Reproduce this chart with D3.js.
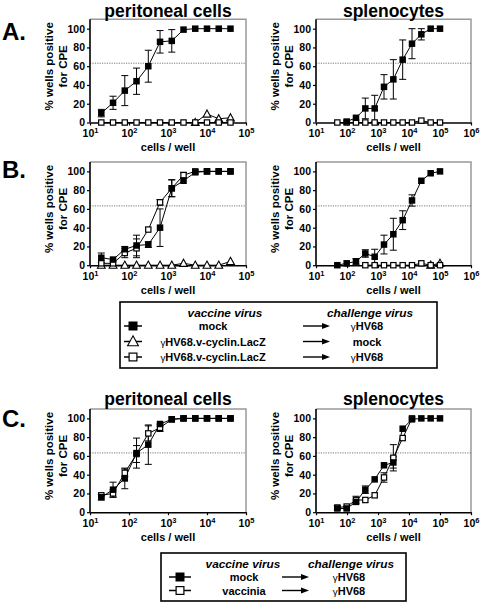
<!DOCTYPE html>
<html><head><meta charset="utf-8">
<script src="https://cdn.jsdelivr.net/npm/d3@7/dist/d3.min.js"></script>
<style>
body{margin:0;background:#fff}
svg{display:block}
text{font-family:"Liberation Sans",Arial,Helvetica,sans-serif;font-weight:bold;fill:#000}
</style>
</head><body>
<svg id="chart" width="480" height="604"></svg>
<script>
// ---------- data ----------
const peritonealX = [19.5, 39, 78, 156, 312.5, 625, 1250, 2500, 5000, 10000, 20000, 40000];
const splenocyteX = [48.8, 97.7, 195, 390, 781, 1562, 3125, 6250, 12500, 25000, 50000, 100000];
const yTickValues = [0, 20, 40, 60, 80, 100];
const peritonealDecades = [1, 2, 3, 4, 5];
const splenocyteDecades = [1, 2, 3, 4, 5, 6];
const cpeThreshold = 63.2;
const panelTitles = ["peritoneal cells", "splenocytes"];
const panelLetters = ["A.", "B.", "C."];
const yAxisTitle = ["% wells positive", "for CPE"];
const xAxisTitle = "cells / well";

// Panel A
const aPeritMock      = [10, 21, 34, 44, 60, 86, 87, 99, 100, 100, 100, 100];
const aPeritMockErr   = [4, 7, 16, 14, 17, 12, 12, 0, 0, 0, 0, 0];
const aPeritCyclinMock= [null, null, null, null, null, null, null, null, 0, 9, 4, 5];
const aPeritCyclinHV  = [0, 0, 0, 0, 0, 0, 0, 0, 0, 0, 0, 0];
const aSplenMock      = [null, 1, 5, 15, 15, 38, 46, 67, 84, 94, 100, 100];
const aSplenMockErr   = [0, 0, 0, 11, 14, 13, 21, 21, 16, 6, 0, 0];
const aSplenCyclinHV  = [0, 0, 0, 0, 0, 0, 0, 0, 0, 2, 0, 0];

// Panel B
const bPeritMock      = [8, 6, 17, 21, 22, 40, 82, 90, 99, 100, 100, 100];
const bPeritMockErr   = [5, 0, 3, 11, 3, 20, 9, 0, 0, 0, 0, 0];
const bPeritCyclinMock= [0, 0, 0, 0, 0, 0, 0, 2, 0, 0, 0, 4];
const bPeritCyclinHV  = [2, 2, 13, 18, 38, 67, 82, 96, 100, 100, 100, 100];
const bPeritCyclinHVErr=[0, 0, 5, 10, 0, 3, 9, 3, 0, 0, 0, 0];
const bSplenMock      = [0, 2, 4, 12.5, 9, 22, 33, 48, 69, 90, 98, 100];
const bSplenMockErr   = [0, 0, 3, 4, 8, 10, 17, 10, 6, 0, 0, 0];
const bSplenCyclinMock= [null, null, null, null, null, null, null, null, null, null, 0, 2];
const bSplenCyclinHV  = [null, null, null, 0, 0, 0, 0, 0, 0, 2, 0, 0];

// Panel C
const cPeritMock      = [16, 24, 36, 63, 72, 94, 99, 100, 100, 100, 100, 100];
const cPeritMockErr   = [3, 8, 11, 16, 21, 0, 0, 0, 0, 0, 0, 0];
const cPeritVaccinia  = [18, 20, 42, 62, 84, 90, 99, 100, 100, 100, 100, 100];
const cPeritVacciniaErr=[0, 4, 4, 9, 8, 4, 0, 0, 0, 0, 0, 0];
const cSplenMock      = [4, 4, 11, 24, 35, 50, 53, 89, 99, 100, 100, 100];
const cSplenMockErr   = [0, 0, 0, 4, 0, 0, 6, 0, 0, 0, 0, 0];
const cSplenVaccinia  = [5, 6, 13, 13, 18, 37, 58, 79, 100, null, null, null];
const cSplenVacciniaErr=[2, 0, 4, 0, 0, 5, 14, 0, 0, 0, 0, 0];

// Legends
const legend1Rows = [
  {sym: "filled", vaccine: "mock", challenge: "γHV68"},
  {sym: "triangle", vaccine: "γHV68.v-cyclin.LacZ", challenge: "mock"},
  {sym: "open", vaccine: "γHV68.v-cyclin.LacZ", challenge: "γHV68"}
];
const legend2Rows = [
  {sym: "filled", vaccine: "mock", challenge: "γHV68"},
  {sym: "open", vaccine: "vaccinia", challenge: "γHV68"}
];
const legendHeaders = ["vaccine virus", "challenge virus"];

// ---------- layout ----------
const svg = d3.select("#chart");
const plotH = 103.2;
const colLayout = [
  {x0: 90, x1: 246, domain: [10, 1e5], decades: peritonealDecades, xs: peritonealX},
  {x0: 316, x1: 471, domain: [10, 1e6], decades: splenocyteDecades, xs: splenocyteX}
];
const rowTops = [19.3, 162, 409];
const titleBaselines = [16.5, null, 404.5];

function seriesOf(vals, xs, errs) {
  return vals.map((v, i) => ({x: xs[i], v: v, e: errs ? errs[i] : 0})).filter(d => d.v !== null);
}

function drawMarker(g, type, cx, cy, s) {
  if (type === "filled") {
    g.append("rect").attr("x", cx - s/2).attr("y", cy - s/2).attr("width", s).attr("height", s)
      .attr("fill", "#000");
  } else if (type === "open") {
    g.append("rect").attr("x", cx - s/2 + 0.6).attr("y", cy - s/2 + 0.6).attr("width", s - 1.2).attr("height", s - 1.2)
      .attr("fill", "#fff").attr("stroke", "#000").attr("stroke-width", 1.2);
  } else {
    const h = s * 1.05;
    g.append("path").attr("d", `M${cx},${cy - h*0.6}L${cx + s*0.6},${cy + h*0.45}L${cx - s*0.6},${cy + h*0.45}Z`)
      .attr("fill", "#fff").attr("stroke", "#000").attr("stroke-width", 1.1);
  }
}

function drawPanel(rowIdx, colIdx, seriesList) {
  const L = colLayout[colIdx];
  const top = rowTops[rowIdx];
  const bottom = top + plotH;
  const x = d3.scaleLog().domain(L.domain).range([L.x0, L.x1]);
  const y = d3.scaleLinear().domain([0, 110]).range([bottom, top]);
  const g = svg.append("g");

  // frame (gray top/right)
  g.append("path").attr("d", `M${L.x0},${top}H${L.x1}V${bottom}`)
    .attr("fill", "none").attr("stroke", "#999").attr("stroke-width", 1.5);

  // threshold line
  g.append("line").attr("x1", L.x0).attr("x2", L.x1).attr("y1", y(cpeThreshold)).attr("y2", y(cpeThreshold))
    .attr("stroke", "#555").attr("stroke-width", 0.8).attr("stroke-dasharray", "1.2,1.2");

  // y axis
  const ya = g.append("g").attr("transform", `translate(${L.x0},0)`)
    .call(d3.axisLeft(y).tickValues(yTickValues).tickSize(3).tickSizeOuter(0).tickPadding(2));
  ya.select(".domain").attr("stroke", "#000").attr("stroke-width", 1.6)
    .attr("d", `M0,${top}V${bottom}`);
  ya.selectAll(".tick line").attr("stroke", "#000").attr("stroke-width", 1.2);
  ya.selectAll(".tick text").attr("font-size", 10.5).attr("font-family", null).attr("font-weight", "bold");

  // x axis
  const xa = g.append("g").attr("transform", `translate(0,${bottom})`)
    .call(d3.axisBottom(x).tickValues(L.decades.map(e => Math.pow(10, e))).tickSize(3).tickSizeOuter(0).tickPadding(2));
  xa.select(".domain").attr("stroke", "#000").attr("stroke-width", 1.6);
  xa.selectAll(".tick line").attr("stroke", "#000").attr("stroke-width", 1.2);
  xa.selectAll(".tick text").attr("font-size", 10.5).attr("font-family", null).attr("font-weight", "bold")
    .attr("dy", "0.95em")
    .each(function(d) {
      const t = d3.select(this);
      t.text(null);
      t.append("tspan").text("10");
      t.append("tspan").attr("font-size", 7.5).attr("dy", -4.5).text(String(Math.round(Math.log10(d))));
    });

  // axis titles
  const tcx = top + 47;
  g.append("text").attr("transform", `translate(${L.x0 - 37.5},${tcx}) rotate(-90)`)
    .attr("text-anchor", "middle").attr("font-size", 11.5).text(yAxisTitle[0]);
  g.append("text").attr("transform", `translate(${L.x0 - 23},${tcx}) rotate(-90)`)
    .attr("text-anchor", "middle").attr("font-size", 11.5).text(yAxisTitle[1]);
  g.append("text").attr("x", (L.x0 + L.x1) / 2).attr("y", bottom + 28.5)
    .attr("text-anchor", "middle").attr("font-size", 11).text(xAxisTitle);

  if (titleBaselines[rowIdx] !== null) {
    g.append("text").attr("x", (L.x0 + L.x1) / 2).attr("y", titleBaselines[rowIdx])
      .attr("text-anchor", "middle").attr("font-size", 17.5).text(panelTitles[colIdx]);
  }

  // series
  const line = d3.line().x(d => x(d.x)).y(d => y(d.v));
  seriesList.forEach(s => {
    const data = seriesOf(s.vals, L.xs, s.errs);
    data.filter(d => d.e > 0).forEach(d => {
      const cx = x(d.x);
      const y1 = y(Math.min(100, d.v + d.e)), y2 = y(Math.max(0, d.v - d.e));
      g.append("path").attr("d", `M${cx},${y1}V${y2}M${cx-3.5},${y1}H${cx+3.5}M${cx-3.5},${y2}H${cx+3.5}`)
        .attr("stroke", "#000").attr("stroke-width", 1).attr("fill", "none");
    });
    g.append("path").datum(data).attr("d", line).attr("fill", "none").attr("stroke", "#000").attr("stroke-width", 1);
  });
  seriesList.forEach(s => {
    const data = seriesOf(s.vals, L.xs, s.errs);
    data.forEach(d => drawMarker(g, s.sym, x(d.x), y(d.v), 6.5));
  });
}

// order: triangle, open, filled (filled on top)
drawPanel(0, 0, [
  {sym: "triangle", vals: aPeritCyclinMock},
  {sym: "open", vals: aPeritCyclinHV},
  {sym: "filled", vals: aPeritMock, errs: aPeritMockErr}
]);
drawPanel(0, 1, [
  {sym: "open", vals: aSplenCyclinHV},
  {sym: "filled", vals: aSplenMock, errs: aSplenMockErr}
]);
drawPanel(1, 0, [
  {sym: "triangle", vals: bPeritCyclinMock},
  {sym: "open", vals: bPeritCyclinHV, errs: bPeritCyclinHVErr},
  {sym: "filled", vals: bPeritMock, errs: bPeritMockErr}
]);
drawPanel(1, 1, [
  {sym: "triangle", vals: bSplenCyclinMock},
  {sym: "open", vals: bSplenCyclinHV},
  {sym: "filled", vals: bSplenMock, errs: bSplenMockErr}
]);
drawPanel(2, 0, [
  {sym: "open", vals: cPeritVaccinia, errs: cPeritVacciniaErr},
  {sym: "filled", vals: cPeritMock, errs: cPeritMockErr}
]);
drawPanel(2, 1, [
  {sym: "open", vals: cSplenVaccinia, errs: cSplenVacciniaErr},
  {sym: "filled", vals: cSplenMock, errs: cSplenMockErr}
]);

// panel letters
[40, 178, 427].forEach((yy, i) => {
  svg.append("text").attr("x", 2).attr("y", yy).attr("font-size", 24).text(panelLetters[i]);
});

// ---------- legends ----------
function greekText(t, str) {
  if (str.startsWith("γ")) {
    t.append("tspan").attr("font-weight", "normal").attr("font-size", "0.9em").text("γ");
    t.append("tspan").text(str.slice(1));
  } else t.text(str);
}
function drawArrow(g, x1, x2, yy) {
  g.append("line").attr("x1", x1).attr("x2", x2 - 6).attr("y1", yy).attr("y2", yy)
    .attr("stroke", "#000").attr("stroke-width", 1.4);
  g.append("path").attr("d", `M${x2},${yy}L${x2-8},${yy-3}L${x2-8},${yy+3}Z`).attr("fill", "#000");
}
function drawLegend(box, rows, cfg) {
  const g = svg.append("g");
  g.append("rect").attr("x", box.x).attr("y", box.y).attr("width", box.w).attr("height", box.h)
    .attr("fill", "#fff").attr("stroke", "#000").attr("stroke-width", 1.6);
  g.append("text").attr("x", cfg.vacHeadX).attr("y", cfg.headY).attr("text-anchor", "middle")
    .attr("font-size", 11.8).attr("font-style", "italic").text(legendHeaders[0]);
  g.append("text").attr("x", cfg.chHeadX).attr("y", cfg.headY).attr("text-anchor", "middle")
    .attr("font-size", 11.8).attr("font-style", "italic").text(legendHeaders[1]);
  rows.forEach((r, i) => {
    const by = cfg.rowY[i];
    const cy = by - 4;
    g.append("line").attr("x1", cfg.symX - cfg.symW/2).attr("x2", cfg.symX + cfg.symW/2)
      .attr("y1", cy).attr("y2", cy).attr("stroke", "#000").attr("stroke-width", 1.5);
    drawMarker(g, r.sym, cfg.symX, cy, 9);
    const t1 = g.append("text").attr("x", cfg.vacX).attr("y", by).attr("text-anchor", "middle").attr("font-size", 11);
    greekText(t1, r.vaccine);
    drawArrow(g, cfg.arX1, cfg.arX2, cy);
    const t2 = g.append("text").attr("x", cfg.chX).attr("y", by).attr("text-anchor", "middle").attr("font-size", 11);
    greekText(t2, r.challenge);
  });
}
drawLegend({x: 120, y: 302, w: 317, h: 66}, legend1Rows,
  {headY: 317, vacHeadX: 225, chHeadX: 370, rowY: [330, 345.5, 361], symX: 133, symW: 18,
   vacX: 213, chX: 367, arX1: 303, arX2: 330});
drawLegend({x: 161, y: 553, w: 245, h: 48}, legend2Rows,
  {headY: 568, vacHeadX: 243, chHeadX: 351, rowY: [581, 594.5], symX: 180, symW: 22,
   vacX: 244, chX: 349, arX1: 282, arX2: 309});
</script>
</body></html>
